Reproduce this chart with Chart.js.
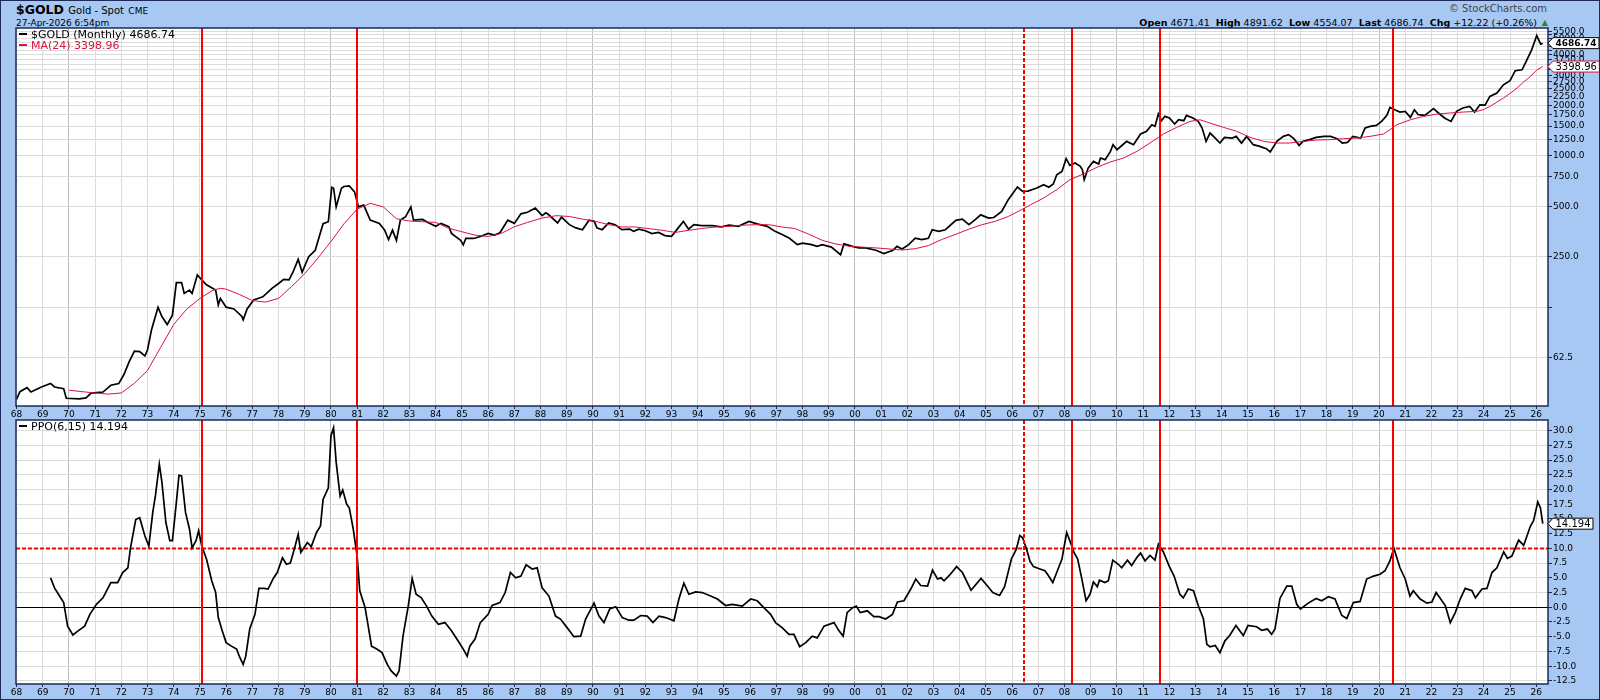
<!DOCTYPE html>
<html>
<head>
<meta charset="utf-8">
<script src="https://cdn.jsdelivr.net/npm/chart.js@4.4.1/dist/chart.umd.min.js"></script>
<style>
  html, body { margin: 0; padding: 0; }
  body { width: 1600px; height: 700px; overflow: hidden; }
  #page { position: relative; width: 1600px; height: 700px; background: #a6c8f3; font-family: "DejaVu Sans", sans-serif; color: #000; }
  #frame { position: absolute; left: 0; top: 0; width: 1600px; height: 700px; box-sizing: border-box; border: 1px solid #1b2a57; pointer-events: none; }
  canvas { position: absolute; left: 0; }
  .txt { position: absolute; white-space: nowrap; line-height: 12px; }
  .dash { display: inline-block; width: 8px; height: 2px; vertical-align: middle; margin-right: 4px; margin-top: -2px; }
  .hdr b { font-weight: bold; }
</style>
</head>
<body>
<div id="page">
  <div class="txt" style="left:16px;top:4px;font-size:12.5px;font-weight:bold;">$GOLD <span style="font-weight:normal;font-size:10px;">Gold - Spot</span> <span style="font-weight:normal;font-size:9px;">CME</span></div>
  <div class="txt" style="left:16px;top:17px;font-size:9px;">27-Apr-2026 6:54pm</div>
  <div class="txt" style="right:53px;top:3px;font-size:10px;color:#444;">&copy; StockCharts.com</div>
  <div class="txt hdr" style="right:63px;top:17px;font-size:9.5px;"><b>Open</b> 4671.41&nbsp; <b>High</b> 4891.62&nbsp; <b>Low</b> 4554.07&nbsp; <b>Last</b> 4686.74&nbsp; <b>Chg</b> +12.22 (+0.26%)</div>
  <div class="txt" style="right:52px;top:17px;font-size:8px;color:#2a8a2a;">&#9650;</div>

  <canvas id="priceChart" width="1600" height="400" style="top:20px;"></canvas>
  <canvas id="ppoChart" width="1600" height="288" style="top:412px;"></canvas>

  <div class="txt" style="left:19px;top:29px;font-size:11px;"><span class="dash" style="background:#000"></span>$GOLD (Monthly) 4686.74</div>
  <div class="txt" style="left:19px;top:40px;font-size:11px;color:#dc143c;"><span class="dash" style="background:#dc143c"></span>MA(24) 3398.96</div>
  <div class="txt" style="left:19px;top:421px;font-size:11px;"><span class="dash" style="background:#000"></span>PPO(6,15) 14.194</div>
  <div id="frame"></div>
</div>

<script>
// monthly gold close as [year, price]
const goldPoints = [
  [1968.0, 35.3], [1968.13, 39.2], [1968.4, 41.4], [1968.55, 39], [1968.95, 41.8],
  [1969.3, 43.9], [1969.45, 41.8], [1969.8, 40.8], [1969.9, 35.8], [1970.4, 35.5],
  [1970.65, 36], [1970.85, 38.4], [1971.3, 39], [1971.6, 42.8], [1971.9, 43.8],
  [1972.1, 49.6], [1972.3, 59.2], [1972.5, 68.4], [1972.7, 68], [1972.9, 64],
  [1973.0, 69.7], [1973.15, 91.4], [1973.4, 125], [1973.55, 110], [1973.75, 98.5],
  [1973.95, 112], [1974.1, 175], [1974.3, 175], [1974.4, 151], [1974.6, 158],
  [1974.7, 151], [1974.9, 194.5], [1975.07, 182], [1975.25, 170], [1975.6, 158],
  [1975.7, 129], [1975.78, 141], [1976.0, 125], [1976.3, 122], [1976.6, 110],
  [1976.65, 105], [1976.8, 122], [1977.05, 138], [1977.4, 144], [1977.75, 162],
  [1978.0, 173], [1978.2, 183], [1978.4, 182], [1978.55, 202], [1978.75, 241],
  [1978.9, 202], [1979.15, 250], [1979.4, 273], [1979.7, 393], [1979.9, 404],
  [1980.03, 648], [1980.1, 640], [1980.2, 495], [1980.4, 640], [1980.5, 655],
  [1980.7, 660], [1980.9, 609], [1981.05, 495], [1981.25, 507], [1981.5, 413],
  [1981.85, 395], [1982.05, 360], [1982.2, 316], [1982.35, 360], [1982.5, 313],
  [1982.65, 413], [1982.85, 433], [1983.05, 495], [1983.15, 413], [1983.5, 417],
  [1983.7, 400], [1984.0, 380], [1984.2, 395], [1984.5, 377], [1984.6, 344],
  [1984.95, 313], [1985.05, 294], [1985.15, 321], [1985.45, 321], [1985.7, 330],
  [1986.0, 344], [1986.25, 336], [1986.45, 347], [1986.75, 413], [1987.0, 395],
  [1987.25, 450], [1987.5, 460], [1987.8, 487], [1988.06, 439], [1988.2, 457],
  [1988.3, 446], [1988.65, 397], [1988.8, 430], [1989.1, 388], [1989.35, 371],
  [1989.6, 362], [1989.85, 412], [1990.05, 406], [1990.15, 371], [1990.35, 362],
  [1990.6, 397], [1990.85, 388], [1991.1, 362], [1991.4, 365], [1991.55, 354],
  [1991.75, 365], [1992.0, 357], [1992.25, 343], [1992.5, 349], [1992.75, 334],
  [1993.0, 331], [1993.3, 379], [1993.45, 406], [1993.65, 365], [1993.85, 388],
  [1994.15, 383], [1994.55, 383], [1994.9, 376], [1995.2, 385], [1995.55, 379],
  [1995.95, 406], [1996.3, 391], [1996.65, 379], [1996.95, 354], [1997.2, 340],
  [1997.5, 322], [1997.8, 295], [1998.0, 301], [1998.35, 295], [1998.55, 288],
  [1998.75, 295], [1999.1, 285], [1999.45, 257], [1999.58, 298], [1999.9, 288],
  [2000.15, 282], [2000.4, 282], [2000.8, 273], [2001.1, 261], [2001.45, 273],
  [2001.6, 288], [2001.8, 278], [2002.05, 295], [2002.3, 322], [2002.55, 316],
  [2002.8, 322], [2002.95, 362], [2003.2, 354], [2003.45, 362], [2003.85, 412],
  [2004.1, 419], [2004.35, 388], [2004.6, 417], [2004.8, 444], [2005.1, 425],
  [2005.3, 428], [2005.6, 465], [2005.85, 547], [2006.2, 650], [2006.4, 612],
  [2006.6, 615], [2006.94, 641], [2007.2, 672], [2007.4, 648], [2007.57, 678],
  [2007.7, 770], [2007.9, 806], [2008.06, 960], [2008.2, 876], [2008.4, 904],
  [2008.6, 864], [2008.68, 825], [2008.75, 719], [2008.9, 844], [2009.1, 925],
  [2009.3, 892], [2009.37, 968], [2009.55, 947], [2009.75, 1061], [2009.85, 1163],
  [2010.0, 1086], [2010.37, 1217], [2010.63, 1163], [2010.9, 1346], [2011.13, 1397],
  [2011.33, 1530], [2011.45, 1496], [2011.58, 1771], [2011.7, 1617], [2011.83, 1716],
  [2012.0, 1677], [2012.2, 1544], [2012.35, 1638], [2012.55, 1617], [2012.65, 1739],
  [2012.9, 1677], [2013.1, 1601], [2013.25, 1462], [2013.4, 1217], [2013.55, 1365],
  [2013.75, 1274], [2013.93, 1190], [2014.1, 1286], [2014.4, 1274], [2014.55, 1304],
  [2014.75, 1190], [2014.95, 1304], [2015.2, 1163], [2015.45, 1137], [2015.7, 1101],
  [2015.85, 1052], [2016.1, 1217], [2016.35, 1304], [2016.55, 1334], [2016.75, 1263],
  [2016.95, 1152], [2017.1, 1217], [2017.35, 1246], [2017.6, 1286], [2017.9, 1304],
  [2018.15, 1304], [2018.4, 1263], [2018.6, 1190], [2018.8, 1200], [2019.0, 1304],
  [2019.3, 1274], [2019.47, 1462], [2019.66, 1496], [2019.9, 1517], [2020.1, 1601],
  [2020.3, 1739], [2020.42, 1941], [2020.6, 1880], [2020.8, 1820], [2021.0, 1838],
  [2021.2, 1692], [2021.35, 1880], [2021.5, 1755], [2021.75, 1739], [2022.08, 1906],
  [2022.27, 1797], [2022.5, 1677], [2022.75, 1601], [2022.96, 1838], [2023.2, 1925],
  [2023.46, 1969], [2023.65, 1820], [2023.85, 2010], [2024.05, 2000], [2024.23, 2257],
  [2024.5, 2360], [2024.75, 2647], [2025.0, 2800], [2025.2, 3210], [2025.46, 3250],
  [2025.65, 3740], [2025.83, 4290], [2026.02, 5200], [2026.17, 4620], [2026.25, 4686.74]
];

// 24-month moving average as drawn
const maPoints = [
  [1970.0, 40], [1970.5, 39.2], [1971.0, 38.5], [1971.5, 37.9], [1972.0, 38.5],
  [1972.5, 44], [1973.0, 52.5], [1973.5, 72], [1974.0, 98.5], [1974.5, 122],
  [1975.0, 141], [1975.5, 158], [1975.8, 162], [1976.0, 160], [1976.5, 149],
  [1977.0, 137], [1977.5, 134], [1978.0, 141], [1978.5, 166], [1979.0, 198],
  [1979.5, 245], [1980.0, 308], [1980.5, 393], [1981.0, 480], [1981.5, 520],
  [1982.0, 495], [1982.5, 421], [1983.0, 408], [1983.5, 404], [1984.0, 400],
  [1984.5, 369], [1985.0, 352], [1985.5, 336], [1986.0, 330], [1986.5, 344],
  [1987.0, 377], [1987.5, 400], [1988.06, 425], [1988.6, 439], [1989.1, 434],
  [1989.6, 419], [1990.1, 406], [1990.6, 388], [1991.1, 376], [1991.6, 376],
  [1992.1, 368], [1992.65, 359], [1993.15, 349], [1993.65, 359], [1994.15, 368],
  [1994.7, 376], [1995.2, 379], [1995.7, 385], [1996.2, 388], [1996.7, 388],
  [1997.2, 376], [1997.7, 368], [1998.25, 340], [1998.75, 313], [1999.25, 298],
  [1999.8, 288], [2000.3, 285], [2000.8, 282], [2001.3, 278], [2001.8, 274],
  [2002.3, 279], [2002.8, 291], [2003.3, 316], [2003.85, 340], [2004.35, 365],
  [2004.85, 388], [2005.35, 406], [2005.85, 434], [2006.4, 480], [2006.7, 510],
  [2007.2, 559], [2007.7, 627], [2008.2, 719], [2008.72, 778], [2009.23, 852],
  [2009.74, 917], [2010.25, 968], [2010.76, 1061], [2011.26, 1190], [2011.77, 1346],
  [2012.28, 1476], [2012.79, 1601], [2013.17, 1638], [2013.55, 1565], [2014.06, 1476],
  [2014.57, 1397], [2015.08, 1286], [2015.6, 1217], [2016.1, 1190], [2016.6, 1190],
  [2017.1, 1217], [2017.62, 1240], [2018.13, 1246], [2018.64, 1263], [2019.15, 1274],
  [2019.66, 1304], [2020.17, 1346], [2020.42, 1428], [2020.68, 1530], [2021.2, 1638],
  [2021.7, 1716], [2022.2, 1770], [2022.7, 1797], [2023.22, 1820], [2023.73, 1838],
  [2023.98, 1880], [2024.24, 1969], [2024.5, 2088], [2024.75, 2206], [2025.0, 2350],
  [2025.27, 2530], [2025.52, 2750], [2025.78, 2970], [2026.03, 3250], [2026.25, 3398.96]
];

// PPO(6,15)
const ppoPoints = [
  [1969.3, 5.0], [1969.45, 3.3], [1969.6, 2.2], [1969.8, 0.8], [1969.95, -3.2],
  [1970.15, -4.7], [1970.35, -4.0], [1970.6, -3.2], [1970.8, -1.2], [1971.05, 0.5],
  [1971.3, 1.6], [1971.6, 4.2], [1971.86, 4.2], [1972.05, 5.9], [1972.25, 6.7],
  [1972.35, 10.1], [1972.55, 14.9], [1972.7, 15.2], [1972.9, 12.1], [1973.05, 10.4],
  [1973.2, 16.1], [1973.3, 18.9], [1973.45, 24.3], [1973.55, 21.2], [1973.7, 14.4],
  [1973.85, 11.3], [1973.95, 11.3], [1974.1, 17.8], [1974.2, 22.4], [1974.3, 22.3],
  [1974.45, 16.1], [1974.6, 13.3], [1974.7, 10.1], [1974.85, 11.3], [1974.95, 13.0],
  [1975.07, 10.4], [1975.25, 8.2], [1975.45, 4.5], [1975.6, 2.5], [1975.7, -1.75],
  [1975.85, -4.0], [1976.0, -6.0], [1976.2, -6.6], [1976.4, -7.1], [1976.5, -8.3],
  [1976.65, -9.7], [1976.75, -8.3], [1976.9, -3.7], [1977.1, -1.2], [1977.25, 3.2],
  [1977.45, 3.2], [1977.6, 3.1], [1977.8, 4.9], [1977.95, 5.9], [1978.15, 8.4],
  [1978.3, 7.3], [1978.45, 7.5], [1978.6, 9.85], [1978.75, 12.4], [1978.85, 9.3],
  [1979.1, 11.0], [1979.25, 10.3], [1979.45, 12.7], [1979.6, 13.8], [1979.7, 18.3],
  [1979.9, 20.3], [1980.0, 29.1], [1980.1, 30.5], [1980.2, 24.6], [1980.35, 18.9],
  [1980.45, 19.9], [1980.6, 17.5], [1980.7, 16.9], [1980.85, 13.3], [1981.0, 8.7],
  [1981.1, 2.8], [1981.3, 0.0], [1981.4, -2.6], [1981.55, -6.6], [1981.75, -7.1],
  [1981.95, -7.7], [1982.15, -9.7], [1982.3, -10.8], [1982.5, -11.7], [1982.6, -10.8],
  [1982.75, -4.9], [1982.95, 0.2], [1983.1, 4.9], [1983.25, 2.2], [1983.45, 1.6],
  [1983.65, 0.2], [1983.85, -1.5], [1984.1, -2.9], [1984.35, -2.6], [1984.6, -4.0],
  [1984.85, -5.7], [1985.05, -7.1], [1985.2, -8.3], [1985.3, -6.6], [1985.5, -5.4],
  [1985.7, -2.6], [1986.0, -1.2], [1986.15, 0.3], [1986.45, 0.8], [1986.65, 2.5],
  [1986.85, 5.9], [1987.05, 5.0], [1987.25, 5.3], [1987.45, 7.2], [1987.68, 6.5],
  [1987.87, 6.7], [1988.06, 3.3], [1988.32, 1.9], [1988.57, -1.5], [1988.76, -2.0],
  [1989.02, -3.5], [1989.27, -5.0], [1989.53, -4.9], [1989.72, -2.0], [1990.04, 0.7],
  [1990.23, -1.5], [1990.42, -2.6], [1990.64, -0.3], [1990.87, 0.1], [1991.12, -1.75],
  [1991.37, -2.2], [1991.56, -2.2], [1991.82, -1.4], [1992.07, -1.5], [1992.29, -2.6],
  [1992.52, -1.5], [1992.77, -1.75], [1993.09, -2.3], [1993.28, 1.4], [1993.47, 4.1],
  [1993.66, 2.2], [1993.92, 2.6], [1994.17, 2.5], [1994.49, 1.9], [1994.75, 1.4],
  [1995.06, 0.3], [1995.32, 0.5], [1995.7, 0.2], [1996.02, 1.4], [1996.27, 1.1],
  [1996.53, -0.1], [1996.78, -1.2], [1996.97, -2.6], [1997.23, -3.5], [1997.48, -4.6],
  [1997.67, -4.6], [1997.89, -6.7], [1998.12, -6.0], [1998.37, -4.9], [1998.56, -5.2],
  [1998.82, -3.2], [1999.2, -2.6], [1999.39, -4.0], [1999.55, -4.9], [1999.7, -0.9],
  [1999.9, -0.1], [2000.05, 0.2], [2000.2, -0.9], [2000.47, -0.6], [2000.72, -1.6],
  [2000.92, -1.6], [2001.17, -2.0], [2001.43, -1.2], [2001.62, 0.9], [2001.87, 1.1],
  [2002.13, 3.1], [2002.32, 4.8], [2002.51, 3.7], [2002.77, 3.6], [2002.96, 6.3],
  [2003.15, 4.8], [2003.28, 5.0], [2003.4, 4.5], [2003.6, 5.4], [2003.88, 6.9],
  [2004.1, 5.9], [2004.43, 2.9], [2004.81, 4.9], [2005.0, 3.9], [2005.26, 2.5],
  [2005.52, 2.0], [2005.71, 3.5], [2005.97, 8.2], [2006.16, 9.85], [2006.29, 12.2],
  [2006.4, 11.8], [2006.55, 9.85], [2006.68, 7.8], [2006.81, 6.9], [2007.06, 6.5],
  [2007.25, 6.2], [2007.38, 5.4], [2007.55, 4.2], [2007.7, 5.9], [2007.9, 8.2],
  [2008.08, 12.7], [2008.2, 11.3], [2008.36, 9.3], [2008.5, 8.2], [2008.65, 5.0],
  [2008.82, 1.1], [2008.97, 2.2], [2009.1, 4.3], [2009.25, 3.5], [2009.33, 4.6],
  [2009.54, 4.2], [2009.67, 4.5], [2009.84, 8.0], [2010.05, 7.3], [2010.18, 6.7],
  [2010.4, 8.0], [2010.56, 7.1], [2010.75, 8.4], [2010.9, 9.2], [2011.07, 7.9],
  [2011.26, 8.8], [2011.45, 8.0], [2011.58, 10.7], [2011.77, 9.4], [2012.0, 6.9],
  [2012.18, 5.3], [2012.4, 2.2], [2012.53, 1.6], [2012.72, 3.1], [2012.92, 2.8],
  [2013.1, 0.3], [2013.3, -2.0], [2013.43, -6.3], [2013.55, -6.7], [2013.75, -6.5],
  [2013.93, -7.7], [2014.12, -5.7], [2014.3, -4.8], [2014.54, -3.1], [2014.82, -4.8],
  [2015.0, -3.1], [2015.33, -3.3], [2015.52, -3.9], [2015.74, -3.7], [2015.9, -4.6],
  [2016.03, -3.7], [2016.22, 1.5], [2016.48, 3.6], [2016.67, 3.6], [2016.86, 0.5],
  [2017.0, -0.3], [2017.3, 0.7], [2017.6, 1.5], [2017.81, 1.1], [2018.07, 1.8],
  [2018.32, 1.4], [2018.58, -1.4], [2018.77, -1.9], [2019.02, 0.8], [2019.28, 1.0],
  [2019.53, 4.8], [2019.79, 5.3], [2020.04, 5.6], [2020.23, 6.2], [2020.42, 7.9],
  [2020.57, 10.0], [2020.8, 6.7], [2021.0, 4.8], [2021.18, 1.9], [2021.31, 2.8],
  [2021.57, 1.4], [2021.83, 0.7], [2022.02, 0.9], [2022.18, 2.5], [2022.53, 0.3],
  [2022.72, -2.6], [2022.91, -0.9], [2023.1, 1.4], [2023.29, 3.2], [2023.55, 2.8],
  [2023.68, 1.6], [2023.93, 3.1], [2024.12, 3.2], [2024.31, 5.9], [2024.5, 6.7],
  [2024.76, 9.4], [2024.9, 8.3], [2025.07, 8.7], [2025.33, 11.4], [2025.52, 10.5],
  [2025.78, 13.8], [2025.9, 14.7], [2026.06, 17.9], [2026.16, 16.9], [2026.25, 14.194]
];

const yearTicks = [];
for (let y = 1968; y <= 2026; y++) yearTicks.push(y);

const priceTicks = [62.5, 125, 250, 500, 750, 1000, 1250, 1500, 1750, 2000, 2250, 2500,
  2750, 3000, 3250, 3500, 3750, 4000, 4250, 4500, 4750, 5000, 5250, 5500];
const priceLabels = [62.5, 250, 500, 750, 1000, 1250, 1500, 1750, 2000, 2250, 2500, 2750,
  3000, 3750, 4000, 5000, 5500];
const ppoTicks = [-12.5, -10, -7.5, -5, -2.5, 0, 2.5, 5, 7.5, 10, 12.5, 15, 17.5, 20, 22.5, 25, 27.5, 30];

// sell-signal markers (PPO dropping back under 10)
const signalDates = [1975.07, 1981.0, 2006.47, 2008.3, 2011.64, 2020.53];
const signalDashed = [false, false, true, false, false, false];
const ppoTrigger = 10;

const lastPrice = 4686.74;
const lastMA = 3398.96;
const lastPPO = 14.194;

const X_MIN = 1967.98, X_MAX = 2026.45;
const FONT = '"DejaVu Sans", sans-serif';
const GRID = '#dcdcdc';
const FRAME = '#1b2a57';

function toXY(points) {
  return points.map(p => ({ x: p[0], y: p[1] }));
}

function xScale(labelHeight) {
  return {
    type: 'linear',
    min: X_MIN,
    max: X_MAX,
    afterBuildTicks: axis => { axis.ticks = yearTicks.map(v => ({ value: v })); },
    afterFit: axis => { axis.height = labelHeight; },
    ticks: {
      autoSkip: false,
      maxRotation: 0,
      padding: 0,
      color: '#000',
      font: { family: FONT, size: 9 },
      callback: v => String(Math.round(v) % 100).padStart(2, '0')
    },
    grid: {
      color: c => (c.tick && Math.round(c.tick.value) % 10 === 0) ? '#bdbdbd' : GRID,
      tickLength: 3,
      tickColor: FRAME
    },
    border: { display: false }
  };
}

function drawTag(ctx, x, y, text, border, bold) {
  ctx.save();
  ctx.font = (bold ? 'bold 9px ' : '10px ') + FONT;
  const w = ctx.measureText(text).width + 5;
  const h = 11;
  const bx = x + 5;
  ctx.beginPath();
  ctx.moveTo(x, y);
  ctx.lineTo(bx, y - h / 2);
  ctx.lineTo(bx + w, y - h / 2);
  ctx.lineTo(bx + w, y + h / 2);
  ctx.lineTo(bx, y + h / 2);
  ctx.closePath();
  ctx.fillStyle = '#fff';
  ctx.fill();
  ctx.strokeStyle = border;
  ctx.lineWidth = 1;
  ctx.stroke();
  ctx.fillStyle = '#000';
  ctx.textBaseline = 'middle';
  ctx.textAlign = 'left';
  ctx.fillText(text, bx + 2.5, y + 0.5);
  ctx.restore();
}

// white plot area, signal lines, frame
const panelPlugin = {
  id: 'panel',
  beforeDraw(chart) {
    const a = chart.chartArea, ctx = chart.ctx;
    ctx.save();
    ctx.fillStyle = '#fff';
    ctx.fillRect(a.left, a.top, a.right - a.left, a.bottom - a.top);
    ctx.restore();
  },
  beforeDatasetsDraw(chart) {
    const a = chart.chartArea, ctx = chart.ctx;
    const ys = chart.scales.y;
    if (chart.canvas.id === 'ppoChart') {
      ctx.save();
      ctx.strokeStyle = '#000';
      ctx.lineWidth = 1;
      const y0 = Math.round(ys.getPixelForValue(0)) + 0.5;
      ctx.beginPath(); ctx.moveTo(a.left, y0); ctx.lineTo(a.right, y0); ctx.stroke();
      const y10 = ys.getPixelForValue(ppoTrigger);
      ctx.strokeStyle = '#ff0000';
      ctx.lineWidth = 2;
      ctx.setLineDash([4, 2]);
      ctx.beginPath(); ctx.moveTo(a.left, y10); ctx.lineTo(a.right, y10); ctx.stroke();
      ctx.restore();
    }
  },
  afterDatasetsDraw(chart) {
    const a = chart.chartArea, ctx = chart.ctx;
    const xs = chart.scales.x;
    ctx.save();
    ctx.strokeStyle = '#ff0000';
    ctx.lineWidth = 2;
    signalDates.forEach((d, i) => {
      const x = Math.round(xs.getPixelForValue(d));
      ctx.setLineDash(signalDashed[i] ? [4, 2] : []);
      ctx.beginPath(); ctx.moveTo(x, a.top); ctx.lineTo(x, a.bottom); ctx.stroke();
    });
    ctx.restore();
  },
  afterDraw(chart) {
    const a = chart.chartArea, ctx = chart.ctx;
    ctx.save();
    ctx.strokeStyle = FRAME;
    ctx.lineWidth = 1.5;
    ctx.strokeRect(a.left, a.top, a.right - a.left, a.bottom - a.top);
    ctx.restore();
    const ys = chart.scales.y;
    if (chart.canvas.id === 'priceChart') {
      drawTag(ctx, a.right, ys.getPixelForValue(lastMA), lastMA.toFixed(2), '#dc143c', false);
      drawTag(ctx, a.right, ys.getPixelForValue(lastPrice), lastPrice.toFixed(2), '#000', true);
    } else {
      drawTag(ctx, a.right, ys.getPixelForValue(lastPPO), lastPPO.toFixed(3), '#000', false);
    }
  }
};

const commonOpts = {
  responsive: false,
  animation: false,
  devicePixelRatio: 1,
  parsing: false,
  normalized: true,
  plugins: { legend: { display: false }, tooltip: { enabled: false } },
  elements: { point: { radius: 0 }, line: { tension: 0 } }
};

new Chart(document.getElementById('priceChart'), {
  type: 'line',
  data: {
    datasets: [
      { data: toXY(maPoints), borderColor: '#dc143c', borderWidth: 1, fill: false },
      { data: toXY(goldPoints), borderColor: '#000', borderWidth: 1.7, fill: false }
    ]
  },
  options: Object.assign({}, commonOpts, {
    layout: { padding: { left: 16, top: 8, right: 0, bottom: 0 } },
    scales: {
      x: xScale(14),
      y: {
        type: 'logarithmic',
        position: 'right',
        min: 32.2,
        max: 5770,
        afterBuildTicks: axis => { axis.ticks = priceTicks.map(v => ({ value: v })); },
        afterFit: axis => { axis.width = 52; },
        ticks: {
          autoSkip: false,
          padding: 1,
          color: '#000',
          font: { family: FONT, size: 9 },
          callback: v => priceLabels.includes(v) ? v.toFixed(1) : ''
        },
        grid: { color: GRID, tickLength: 4, tickColor: FRAME },
        border: { display: false }
      }
    }
  }),
  plugins: [panelPlugin]
});

new Chart(document.getElementById('ppoChart'), {
  type: 'line',
  data: {
    datasets: [
      { data: toXY(ppoPoints), borderColor: '#000', borderWidth: 1.7, fill: false }
    ]
  },
  options: Object.assign({}, commonOpts, {
    layout: { padding: { left: 16, top: 8, right: 0, bottom: 0 } },
    scales: {
      x: xScale(16),
      y: {
        type: 'linear',
        position: 'right',
        min: -13.03,
        max: 31.8,
        afterBuildTicks: axis => { axis.ticks = ppoTicks.map(v => ({ value: v })); },
        afterFit: axis => { axis.width = 52; },
        ticks: {
          autoSkip: false,
          padding: 1,
          color: '#000',
          font: { family: FONT, size: 9 },
          callback: v => v.toFixed(1)
        },
        grid: { color: GRID, tickLength: 4, tickColor: FRAME },
        border: { display: false }
      }
    }
  }),
  plugins: [panelPlugin]
});
</script>
</body>
</html>
